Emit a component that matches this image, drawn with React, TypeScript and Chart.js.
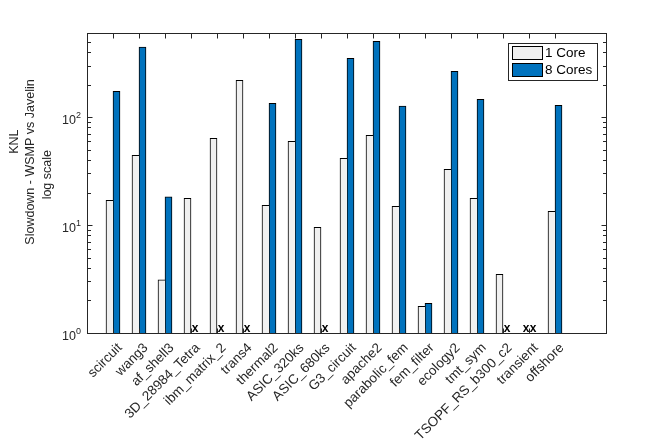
import React, { useEffect, useRef } from "react";
import { Chart, registerables } from "chart.js";

Chart.register(...registerables);

// Sparse-matrix test set and the measured slowdown factors (missing runs are null)
const matrices = [
  "scircuit", "wang3", "af_shell3", "3D_28984_Tetra", "ibm_matrix_2", "trans4",
  "thermal2", "ASIC_320ks", "ASIC_680ks", "G3_circuit", "apache2", "parabolic_fem",
  "fem_filter", "ecology2", "tmt_sym", "TSOPF_RS_b300_c2", "transient", "offshore",
];
const oneCore = [
  16.9, 44.2, 3.1, 17.7, 63.5, 219, 15.2, 59.6, 9.5, 41.5, 67.7, 14.9,
  1.77, 32.8, 17.7, 3.5, null, 13.4,
];
const eightCores = [
  173, 445, 18.2, null, null, null, 134, 524, null, 349, 502, 126,
  1.88, 265, 146, null, null, 128,
];
const seriesNames = ["1 Core", "8 Cores"];
const seriesColors = ["#f0f0f0", "#0072bd"];
const yDecades = [1, 10, 100];
const yMin = 1;
const yMax = 600;
const yTitleLines = ["KNL", "Slowdown - WSMP vs Javelin", "log scale"];

const FONT = '"Liberation Sans", Arial, Helvetica, sans-serif';
const AXIS_COLOR = "#262626";

// x slots run 0..20, matrices occupy slots 1..18
const slotLabels = ["", ...matrices, "", ""];
const pad = (arr: (number | null)[]) => [null, ...arr, null, null];
const isMatrixSlot = (i: number) => i >= 1 && i <= matrices.length;

const framePlugin = {
  id: "frame",
  afterDatasetsDraw(chart: any) {
    const { ctx, chartArea: a, scales } = chart;
    const xs = scales.x;
    const ys = scales.y;
    const L = Math.round(a.left) + 0.5;
    const R = Math.round(a.right) - 0.5;
    const T = Math.round(a.top) + 0.5;
    const B = Math.round(a.bottom) + 0.5;
    ctx.save();
    ctx.strokeStyle = AXIS_COLOR;
    ctx.lineWidth = 1;
    ctx.beginPath();
    // inward x ticks, bottom and top
    for (let i = 1; i <= matrices.length; i++) {
      const px = Math.round(xs.getPixelForValue(i)) + 0.5;
      ctx.moveTo(px, B);
      ctx.lineTo(px, B - 5);
      ctx.moveTo(px, T);
      ctx.lineTo(px, T + 5);
    }
    // inward y ticks, left and right (major + minor)
    for (const d of yDecades) {
      for (let m = 1; m <= 9; m++) {
        const v = d * m;
        if (v < yMin || v > yMax) continue;
        const py = Math.round(ys.getPixelForValue(v)) + 0.5;
        const len = m === 1 ? 5 : 3.5;
        ctx.moveTo(L, py);
        ctx.lineTo(L + len, py);
        ctx.moveTo(R, py);
        ctx.lineTo(R - len, py);
      }
    }
    ctx.stroke();
    ctx.strokeRect(L, T, R - L, B - T);
    ctx.restore();
  },
};

const labelsPlugin = {
  id: "axisText",
  afterDraw(chart: any) {
    const { ctx, chartArea: a, scales } = chart;
    const ys = scales.y;
    ctx.save();
    ctx.fillStyle = AXIS_COLOR;
    // y tick labels as 10^n
    for (const v of yDecades) {
      const py = ys.getPixelForValue(v);
      const exp = String(Math.round(Math.log10(v)));
      ctx.font = `12.5px ${FONT}`;
      ctx.textAlign = "right";
      ctx.textBaseline = "alphabetic";
      ctx.fillText("10", a.left - 11, py + 7.3);
      ctx.font = `9px ${FONT}`;
      ctx.textAlign = "left";
      ctx.fillText(exp, a.left - 11, py + 0.8);
    }
    // y axis title, three rotated lines
    const titleX = [14.5, 31, 48];
    const titleY = [141.7, 162, 174.7];
    ctx.font = `12.5px ${FONT}`;
    ctx.textAlign = "center";
    ctx.textBaseline = "middle";
    yTitleLines.forEach((line, k) => {
      ctx.save();
      ctx.translate(titleX[k], titleY[k]);
      ctx.rotate(-Math.PI / 2);
      ctx.fillText(line, 0, 0);
      ctx.restore();
    });
    // "x" markers where a run is missing
    ctx.fillStyle = "#000";
    ctx.font = `bold 12px ${FONT}`;
    ctx.textAlign = "center";
    ctx.textBaseline = "alphabetic";
    chart.data.datasets.forEach((ds: any, di: number) => {
      const meta = chart.getDatasetMeta(di);
      ds.data.forEach((val: any, i: number) => {
        if (val !== null || !isMatrixSlot(i)) return;
        const el = meta.data[i];
        if (!el || !isFinite(el.x)) return;
        ctx.fillText("x", el.x + 0.5, a.bottom - 1);
      });
    });
    // legend box
    const box = { l: 508.5, t: 43.5, r: 597.5, b: 80.5 };
    ctx.fillStyle = "#fff";
    ctx.fillRect(box.l, box.t, box.r - box.l, box.b - box.t);
    ctx.strokeStyle = AXIS_COLOR;
    ctx.lineWidth = 1;
    ctx.strokeRect(box.l, box.t, box.r - box.l, box.b - box.t);
    seriesNames.forEach((name, k) => {
      const top = 46.5 + k * 17;
      ctx.fillStyle = seriesColors[k];
      ctx.fillRect(512.5, top, 30, 13);
      ctx.strokeStyle = "#000";
      ctx.strokeRect(512.5, top, 30, 13);
      ctx.fillStyle = "#000";
      ctx.font = `13.5px ${FONT}`;
      ctx.textAlign = "left";
      ctx.textBaseline = "middle";
      ctx.fillText(name, 545, top + 7);
    });
    ctx.restore();
  },
};

export default function App() {
  const canvasRef = useRef<HTMLCanvasElement | null>(null);

  useEffect(() => {
    const canvas = canvasRef.current;
    if (!canvas) return;
    const paddedEight = pad(eightCores);
    const chart = new Chart(canvas, {
      type: "bar",
      data: {
        labels: slotLabels,
        datasets: [
          {
            label: seriesNames[0],
            data: pad(oneCore),
            backgroundColor: seriesColors[0],
            borderColor: "#000",
            // right edge is shared with the taller 8-core bar when it exists
            borderWidth: (c: any) =>
              paddedEight[c.dataIndex] == null
                ? { top: 1, left: 1, right: 1, bottom: 0 }
                : { top: 1, left: 1, right: 0, bottom: 0 },
            borderSkipped: false,
          },
          {
            label: seriesNames[1],
            data: paddedEight,
            backgroundColor: seriesColors[1],
            borderColor: "#000",
            borderWidth: { top: 1, left: 1, right: 1, bottom: 0 },
            borderSkipped: false,
          },
        ],
      },
      options: {
        responsive: false,
        devicePixelRatio: 1,
        animation: false,
        layout: { padding: { top: 33, right: 65, bottom: 0, left: 0 } },
        datasets: {
          bar: { barThickness: 7 },
        },
        plugins: {
          legend: { display: false },
          tooltip: { enabled: false },
          title: { display: false },
        },
        scales: {
          x: {
            type: "category",
            offset: false,
            grid: { display: false, drawTicks: false },
            border: { display: false },
            ticks: {
              autoSkip: false,
              minRotation: 45,
              maxRotation: 45,
              padding: 7,
              labelOffset: 7,
              color: AXIS_COLOR,
              font: { family: FONT, size: 13.5 },
            },
            afterFit: (s: any) => {
              s.height = 110;
            },
          },
          y: {
            type: "logarithmic",
            min: yMin,
            max: yMax,
            grid: { display: false, drawTicks: false },
            border: { display: false },
            ticks: { display: false },
            afterFit: (s: any) => {
              s.width = 87;
            },
          },
        },
      },
      plugins: [framePlugin, labelsPlugin],
    } as any);
    return () => chart.destroy();
  }, []);

  return (
    <div style={{ position: "fixed", left: 0, top: 0, width: 672, height: 443, background: "#fff" }}>
      <canvas ref={canvasRef} width={672} height={443} style={{ width: 672, height: 443 }} />
    </div>
  );
}
